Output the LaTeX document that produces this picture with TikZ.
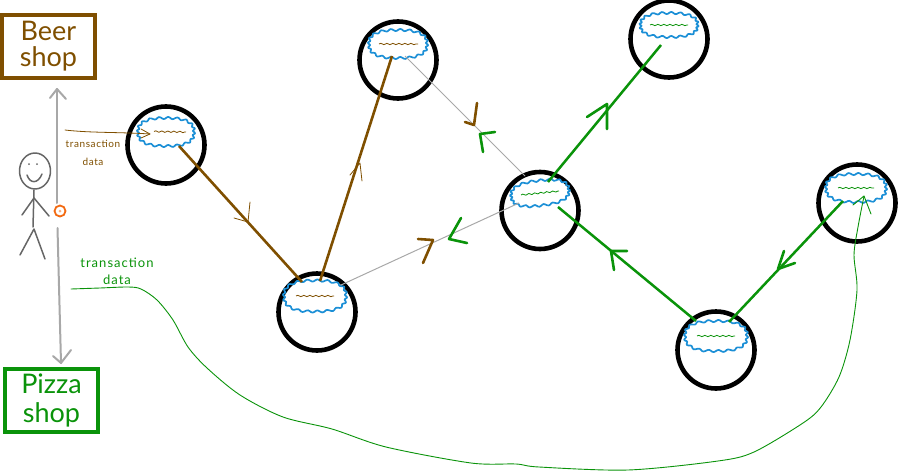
\documentclass[tikz,border=0pt]{standalone}
\usepackage{fontspec}
\setmainfont{Lato}
\usetikzlibrary{decorations.pathmorphing}
\definecolor{brownink}{HTML}{7F4F00}
\definecolor{greenink}{HTML}{0A930A}
\definecolor{cloudblue}{HTML}{1B8FD6}
\definecolor{grayline}{HTML}{A8A8A8}
\definecolor{person}{HTML}{666666}
\definecolor{coin}{HTML}{F26A12}
\tikzset{
  x=1pt,y=-1pt,
  declare function={sr(\t)=1/((abs(cos(\t))^2.6+abs(sin(\t))^2.6)^(1/2.6));},
  every node/.style={inner sep=0pt,outer sep=0pt},
  miner/.style={circle,draw=black,line width=4.6pt,minimum size=77pt},
  blob/.style={circle,minimum size=10pt},
  cloudline/.style={draw=cloudblue,line width=1.7pt,line join=round},
  txline/.style={line width=.8pt,decorate,decoration={snake,segment length=6pt,amplitude=.7pt}},
  shopb/.style={draw=brownink,line width=3.6pt,text=brownink,minimum width=93pt,minimum height=63pt,
    align=center,font=\fontsize{27}{26}\selectfont},
  shopg/.style={draw=greenink,line width=4pt,text=greenink,minimum width=93pt,minimum height=63pt,
    align=center,font=\fontsize{27}{29}\selectfont},
  chainb/.style={draw=brownink,line width=2.6pt},
  chaing/.style={draw=greenink,line width=2.5pt},
  link/.style={draw=grayline,line width=1pt},
  headb/.style={draw=brownink,line width=2.6pt,line cap=round,line join=round},
  headg/.style={draw=greenink,line width=2.6pt,line cap=round,line join=round},
  thinb/.style={draw=brownink,line width=.8pt,line cap=round,line join=round},
  thing/.style={draw=greenink,line width=.9pt,line cap=round,line join=round},
  walk/.style={draw=grayline,line width=2pt,line cap=round,line join=round},
  body/.style={draw=person,line width=1.5pt,line cap=round,line join=round},
  labb/.style={text=brownink,align=center,font=\fontsize{10}{18}\selectfont\addfontfeatures{LetterSpace=6}},
  labg/.style={text=greenink,align=center,font=\fontsize{13}{17}\selectfont\addfontfeatures{LetterSpace=8}},
}
\newcommand{\wobble}[4]{%
  \draw[cloudline,shift={(#1.center)},rotate=#4]
    plot[domain=1:361,samples=121,smooth,variable=\t]
    ({(#2+1.1*sin(20*\t))*cos(\t)*sr(\t)},{(#3+1.1*sin(20*\t))*sin(\t)*sr(\t)}) -- cycle;}
\begin{document}
\begin{tikzpicture}
\useasboundingbox (0,0) rectangle (899,471);
% shops
\node[shopb] (beer) at (48.5,46.5) {Beer\\shop};
\node[shopg] (pizza) at (51.5,400.5) {Pizza\\shop};
% miners
\node[miner] (m1) at (166,145) {};
\node[miner] (m2) at (317,312) {};
\node[miner] (m3) at (398,60) {};
\node[miner] (m4) at (540,210.5) {};
\node[miner] (m5) at (669,39) {};
\node[miner] (m6) at (857,203) {};
\node[miner] (m7) at (716,350) {};
% mempools
\node[blob] (c1) at (166,132) {};
\node[blob] (c2) at (315,296) {};
\node[blob] (c3) at (398,44) {};
\node[blob] (c4) at (540,193) {};
\node[blob] (c5) at (669,25) {};
\node[blob] (c6) at (856,188) {};
\node[blob] (c7) at (716,336) {};
\wobble{c1}{28}{14}{0}
\wobble{c2}{31}{15.5}{0}
\wobble{c3}{29}{14}{0}
\wobble{c4}{29}{12.5}{7}
\wobble{c5}{28.5}{12}{0}
\wobble{c6}{30}{14}{0}
\wobble{c7}{31}{15}{0}
% transactions in mempools
\draw[txline,brownink] ([xshift=-12pt,yshift=.5pt]c1.center) -- ([xshift=20pt]c1.center);
\draw[txline,brownink] ([xshift=-19pt]c2.center) -- ([xshift=19pt]c2.center);
\draw[txline,brownink] ([xshift=-19pt]c3.center) -- ([xshift=20pt]c3.center);
\draw[txline,greenink] ([xshift=-19pt,yshift=-2pt]c4.center) -- ([xshift=19pt,yshift=2pt]c4.center);
\draw[txline,greenink] ([xshift=-19pt]c5.center) -- ([xshift=19pt]c5.center);
\draw[txline,greenink] ([xshift=-18pt]c6.center) -- ([xshift=18pt]c6.center);
\draw[txline,greenink] ([xshift=-19pt]c7.center) -- ([xshift=19pt]c7.center);
% chain links
\coordinate (a1) at (179,146);
\coordinate (a2) at (302,282);
\coordinate (a3) at (320,281);
\coordinate (a4) at (392,56);
\coordinate (a5) at (405,56);
\coordinate (a6) at (525,176);
\coordinate (a7) at (341,285);
\coordinate (a8) at (519,203);
\coordinate (a9) at (548,182);
\coordinate (a10) at (661,45);
\coordinate (a11) at (696,321);
\coordinate (a12) at (558,207);
\coordinate (a13) at (843,201);
\coordinate (a14) at (729,322);
\draw[chainb] (a1) -- (a2);
\draw[chainb] (a3) -- (a4);
\draw[link] (a5) -- (a6);
\draw[link] (a7) -- (a8);
\draw[chaing] (a9) -- (a10);
\draw[chaing] (a11) -- (a12);
\draw[chaing] (a13) -- (a14);
% arrowheads on links
\draw[thinb] (250,202) -- (248,222) -- (234,218);
\draw[thinb] (350,175) -- (360,163) -- (362,181);
\draw[headb] (477,103) -- (474,125) -- (465,122);
\draw[headg] (495,132) -- (480,134) -- (483,152);
\draw[headb] (418,239) -- (433,240) -- (423,263);
\draw[headg] (461,218) -- (449,239) -- (467,243);
\draw[headg] (587,117) -- (607,104) -- (607,129);
\draw[headg] (627,251) -- (611,251) -- (614,270);
\draw[headg] (784,251) -- (778,269) -- (795,263);
% person
\draw[body] (35,171) ellipse [x radius=15.5,y radius=18];
\fill[person] (29,164) circle [radius=1];
\fill[person] (37,164) circle [radius=1];
\draw[body] (27,175) .. controls (30,184) and (38,184) .. (42,174);
\draw[body] (34,190) -- (33,227);
\draw[body] (22,215) -- (34,198) -- (49,216);
\draw[body] (20,255) -- (34,229) -- (45,259);
\draw[draw=coin,line width=1.8pt] (60,211) ellipse [x radius=5.5,y radius=5.5];
\fill[coin!55] (60,211) circle [radius=1.5];
% walking arrow
\coordinate (w1) at (57,89);
\coordinate (w2) at (57,203);
\coordinate (w3) at (57.5,228);
\coordinate (w4) at (61,363);
\draw[walk] (w1) -- (w2);
\draw[walk] (50,98) -- (w1) -- (66,99);
\draw[walk] (w3) -- (w4);
\draw[walk] (53,356) -- (w4) -- (71,350);
% transaction data, brown
\node[labb] (tb) at (93,153) {transaction\\data};
\coordinate (b1) at (65,130);
\coordinate (b2) at (150,134);
\draw[thinb] (b1) .. controls (90,133) and (120,132) .. (b2);
\draw[thinb] (141,129) -- (b2) -- (141,138);
% transaction data, green
\node[labg] (tg) at (117,271) {transaction\\data};
\coordinate (g1) at (71,289);
\coordinate (g2) at (864,196);
\draw[thing] plot[smooth,tension=.5] coordinates {(g1) (100,288) (128,287) (141,289) (157,300) (173,320) (188,347) (207,368) (240,395) (283,417) (332,429) (386,447) (471,463) (516,464) (539,467) (628,470) (718,461) (754,452) (803,423) (821,407) (839,377) (850,340) (857,290) (854,255) (858,227) (g2)};
\draw[thing] (853,205) -- (g2) -- (871,214);
\end{tikzpicture}
\end{document}
